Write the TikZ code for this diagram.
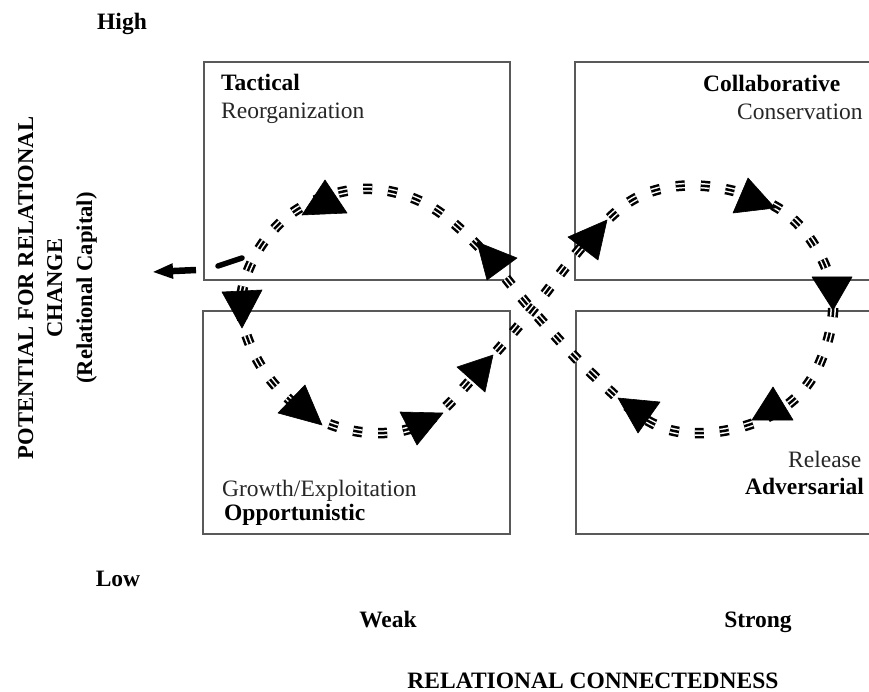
\documentclass[tikz,border=0pt]{standalone}
\usepackage{fontspec}
\setmainfont{Liberation Serif}
\usetikzlibrary{arrows.meta}
\begin{document}
\begin{tikzpicture}[x=1pt,y=-1pt,
  quad/.style={draw=black!65, line width=1.8pt},
  bold/.style={font=\fontsize{23.5}{27}\selectfont\bfseries, inner sep=0pt},
  vbold/.style={font=\fontsize{22.6}{26}\selectfont\bfseries, inner sep=0pt, rotate=90},
  phase/.style={font=\fontsize{23.5}{27}\selectfont, text=black!85, inner sep=0pt},
  markouter/.style={draw=black, line width=10.5pt, dash pattern=on 9pt off 16pt},
  markgap/.style={draw=white, line width=5.5pt, dash pattern=on 9pt off 16pt},
  markinner/.style={draw=black, line width=2.5pt, dash pattern=on 9pt off 16pt},
  tripleloop/.style={markouter, postaction={markgap}, postaction={markinner}},
  head/.style={fill=black, draw=black, line width=0.6pt, line join=round}]
\useasboundingbox (0,0) rectangle (869,692);
\clip (0,0) rectangle (869,692);

% the four quadrants
\draw[quad] (204,62) rectangle (510,280);
\draw[quad] (575,62) rectangle (900,280);
\draw[quad] (203,311) rectangle (510,534);
\draw[quad] (576,311) rectangle (900,534);

% quadrant labels
\node[bold, anchor=base west] (tac) at (221,91) {Tactical};
\node[phase, anchor=base west] (reo) at (221,119) {Reorganization};
\node[bold, anchor=base west] (col) at (703,92) {Collaborative};
\node[phase, anchor=base west] (con) at (737,120) {Conservation};
\node[phase, anchor=base west] (gro) at (222,496) {Growth/Exploitation};
\node[bold, anchor=base west] (opp) at (224,520) {Opportunistic};
\node[phase, anchor=base west] (rel) at (788,467) {Release};
\node[bold, anchor=base west] (adv) at (745,494) {Adversarial};

% axis labels
\node[bold, anchor=base] (high) at (122,30) {High};
\node[bold, anchor=base] (low) at (118,586) {Low};
\node[bold, anchor=base] (weak) at (388,627) {Weak};
\node[bold, anchor=base] (strong) at (758,627) {Strong};
\node[bold, anchor=base] (xaxis) at (593,688) {RELATIONAL CONNECTEDNESS};
\node[vbold, anchor=base] (ya) at (33,288) {POTENTIAL FOR RELATIONAL};
\node[vbold, anchor=base] (yb) at (62,288) {CHANGE};
\node[vbold, anchor=base] (yc) at (92,288) {(Relational Capital)};

% figure-eight cycle
\draw[tripleloop] plot[smooth cycle, tension=0.6] coordinates {
  (532,310) (590,372) (650,422) (705,433) (768,417) (812,378) (833,312)
  (820,255) (778,208) (705,186) (640,196) (588,240)
  (532,310) (478,372) (428,421) (372,433) (312,416) (264,371) (241,310)
  (256,254) (298,209) (362,189) (424,203) (478,246)};

% escape segment and arrow
\coordinate (e1) at (242,258);
\coordinate (e2) at (218,266);
\draw[line width=5.5pt, line cap=round] (e1) -- (e2);
\coordinate (a1) at (196,270);
\coordinate (a2) at (152,272);
\draw[line width=6.5pt, -{Triangle[length=21pt, width=14pt]}] (a1) -- (a2);

% arrow heads along the cycle
\fill[head] (325,180) -- (302,215) -- (347,213) -- cycle;
\fill[head] (477,242) -- (517,258) -- (487,280) -- cycle;
\fill[head] (222,292) -- (262,290) -- (242,328) -- cycle;
\fill[head] (305,385) -- (278,413) -- (322,425) -- cycle;
\fill[head] (400,412) -- (443,413) -- (417,445) -- cycle;
\fill[head] (457,367) -- (493,355) -- (485,392) -- cycle;
\fill[head] (568,237) -- (607,220) -- (598,260) -- cycle;
\fill[head] (748,178) -- (733,213) -- (775,208) -- cycle;
\fill[head] (812,277) -- (852,277) -- (833,310) -- cycle;
\fill[head] (618,398) -- (660,402) -- (638,433) -- cycle;
\fill[head] (773,387) -- (752,420) -- (793,420) -- cycle;
\end{tikzpicture}
\end{document}
